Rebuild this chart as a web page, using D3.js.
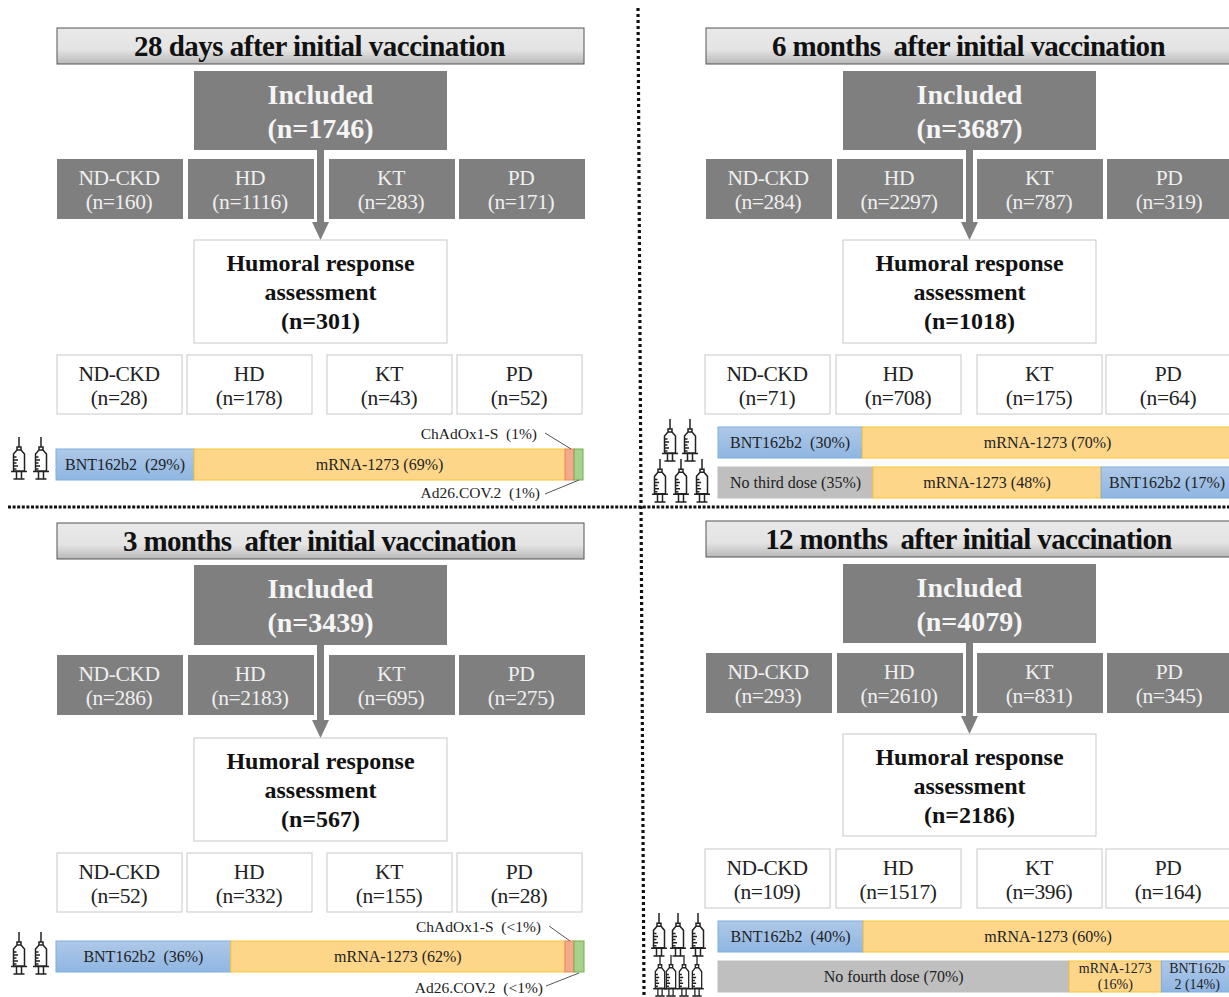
<!DOCTYPE html>
<html>
<head>
<meta charset="utf-8">
<script src="https://cdn.jsdelivr.net/npm/d3@7"></script>
<style>
  html, body { margin: 0; padding: 0; background: #fff; overflow: hidden; }
  text { font-family: "Liberation Serif", serif; white-space: pre; }
</style>
</head>
<body>
<div id="vis"></div>
<script>
// DATA
const titles = ["28 days after initial vaccination", "6 months  after initial vaccination", "3 months  after initial vaccination", "12 months  after initial vaccination"];
const groups = ["ND-CKD", "HD", "KT", "PD"];
const includedN = [1746, 3687, 3439, 4079];
const assessedN = [301, 1018, 567, 2186];
const includedByGroup = [
  [160, 1116, 283, 171],
  [284, 2297, 787, 319],
  [286, 2183, 695, 275],
  [293, 2610, 831, 345],
];
const assessedByGroup = [
  [28, 178, 43, 52],
  [71, 708, 175, 64],
  [52, 332, 155, 28],
  [109, 1517, 396, 164],
];

// vaccine segments: name, percent printed on the bar, share of the bar as drawn
const names28d = ["BNT162b2", "mRNA-1273", "ChAdOx1-S", "Ad26.COV.2"];
const labels28d = ["BNT162b2  (29%)", "mRNA-1273 (69%)", "", ""];
const shares28d = [26.2, 70.4, 1.7, 1.7];

const names3m = ["BNT162b2", "mRNA-1273", "ChAdOx1-S", "Ad26.COV.2"];
const labels3m = ["BNT162b2  (36%)", "mRNA-1273 (62%)", "", ""];
const shares3m = [33.1, 63.3, 1.7, 1.9];

const names6m = ["BNT162b2", "mRNA-1273"];
const labels6m = ["BNT162b2  (30%)", "mRNA-1273 (70%)"];
const shares6m = [28, 72];

const names6mThird = ["None", "mRNA-1273", "BNT162b2"];
const labels6mThird = ["No third dose (35%)", "mRNA-1273 (48%)", "BNT162b2 (17%)"];
const shares6mThird = [30.1, 44.3, 25.6];

const names12m = ["BNT162b2", "mRNA-1273"];
const labels12m = ["BNT162b2  (40%)", "mRNA-1273 (60%)"];
const shares12m = [28.2, 71.8];

const names12mFourth = ["None", "mRNA-1273", "BNT162b2"];
const labels12mFourth = ["No fourth dose (70%)", "mRNA-1273\n(16%)", "BNT162b\n2 (14%)"];
const shares12mFourth = [68.2, 17.9, 13.9];

const vaccineNames = ["BNT162b2", "mRNA-1273", "ChAdOx1-S", "Ad26.COV.2", "None"];
const vaccineFill = d3.scaleOrdinal(vaccineNames, ["url(#blueGrad)", "#fdd68a", "#f4a98c", "#a9d18e", "#bfbfbf"]);
const vaccineStroke = d3.scaleOrdinal(vaccineNames, ["#7fb0e2", "#fbc435", "#ee8a55", "#74b04c", "#bfbfbf"]);

// LAYOUT
var width = 1229;
var height = 997;
const DARK = "#7f7f7f";

const layouts = [
  { left: 57, right: 584, titleY: 28, inclY: 71, inclH: 79, darkY: 159, humY: 240, humH: 103, whiteY: 355, incX: 194,
    darkX: [57, 188, 329, 459], whiteX: [57, 187, 327, 457], darkW: 126, whiteW: 125 },
  { left: 706, right: 1233, titleY: 28, inclY: 71, inclH: 79, darkY: 159, humY: 240, humH: 103, whiteY: 355, incX: 843,
    darkX: [706, 837, 977, 1107], whiteX: [705, 836, 977, 1106], darkW: 126, whiteW: 125 },
  { left: 57, right: 584, titleY: 523, inclY: 565, inclH: 80, darkY: 655, humY: 738, humH: 103, whiteY: 853, incX: 194,
    darkX: [57, 188, 329, 459], whiteX: [57, 187, 327, 457], darkW: 126, whiteW: 125 },
  { left: 706, right: 1233, titleY: 521, inclY: 564, inclH: 79, darkY: 653, humY: 734, humH: 102, whiteY: 849, incX: 843,
    darkX: [706, 837, 977, 1107], whiteX: [705, 836, 977, 1106], darkW: 126, whiteW: 125 },
];

const bars = [
  { panel: 0, names: names28d, labels: labels28d, shares: shares28d, x0: 56, x1: 583, y: 449 },
  { panel: 1, names: names6m, labels: labels6m, shares: shares6m, x0: 718, x1: 1233, y: 427 },
  { panel: 1, names: names6mThird, labels: labels6mThird, shares: shares6mThird, x0: 718, x1: 1233, y: 467 },
  { panel: 2, names: names3m, labels: labels3m, shares: shares3m, x0: 56, x1: 584, y: 941 },
  { panel: 3, names: names12m, labels: labels12m, shares: shares12m, x0: 718, x1: 1233, y: 921 },
  { panel: 3, names: names12mFourth, labels: labels12mFourth, shares: shares12mFourth, x0: 718, x1: 1233, y: 961 },
];

const syringes = [
  { xs: [19, 41], y: 437, h: 43, w: 1 },
  { xs: [670, 690], y: 419, h: 43, w: 1 },
  { xs: [660, 681, 702], y: 459, h: 44, w: 1 },
  { xs: [19, 41], y: 932, h: 43, w: 1 },
  { xs: [659, 678, 698], y: 913, h: 44, w: 1 },
  { xs: [660, 671, 684, 697], y: 955, h: 42, w: 0.85 },
];

const callouts = [
  { text: "ChAdOx1-S  (1%)", tx: 537, ty: 434, line: [545, 433, 571, 449] },
  { text: "Ad26.COV.2  (1%)", tx: 540, ty: 493, line: [545, 494, 579, 480] },
  { text: "ChAdOx1-S  (<1%)", tx: 541, ty: 927, line: [549, 926, 570, 941] },
  { text: "Ad26.COV.2  (<1%)", tx: 543, ty: 988, line: [546, 986, 579, 973] },
];

var svg = d3.select("#vis").append("svg")
  .attr("width", width)
  .attr("height", height)
  .style("display", "block");

var defs = svg.append("defs");
var titleGrad = defs.append("linearGradient").attr("id", "titleGrad").attr("x1", 0).attr("x2", 0).attr("y1", 0).attr("y2", 1);
titleGrad.append("stop").attr("offset", "0%").attr("stop-color", "#e9e9e9");
titleGrad.append("stop").attr("offset", "60%").attr("stop-color", "#e4e4e4");
titleGrad.append("stop").attr("offset", "100%").attr("stop-color", "#b8b8b8");
var blueGrad = defs.append("linearGradient").attr("id", "blueGrad").attr("x1", 0).attr("x2", 0).attr("y1", 0).attr("y2", 1);
blueGrad.append("stop").attr("offset", "0%").attr("stop-color", "#aec8e8");
blueGrad.append("stop").attr("offset", "100%").attr("stop-color", "#8fb6e2");

// centred block of text lines
function block(g, lines, cx, cy, size, lineH, color, bold, spacing) {
  var t = g.append("text")
    .attr("text-anchor", "middle")
    .attr("font-size", size)
    .attr("font-weight", bold ? "bold" : "normal")
    .attr("letter-spacing", spacing || 0)
    .attr("fill", color);
  lines.forEach(function (s, i) {
    t.append("tspan")
      .attr("x", cx)
      .attr("y", cy + (i - (lines.length - 1) / 2) * lineH + size * 0.33)
      .text(s);
  });
}

layouts.forEach(function (p, i) {
  var g = svg.append("g");

  // title strip
  g.append("rect")
    .attr("x", p.left).attr("y", p.titleY)
    .attr("width", p.right - p.left).attr("height", 36)
    .attr("fill", "url(#titleGrad)").attr("stroke", "#555").attr("stroke-width", 1);
  g.append("text")
    .attr("x", (p.left + p.right) / 2 - 1).attr("y", p.titleY + 28)
    .attr("text-anchor", "middle").attr("font-size", 29).attr("font-weight", "bold")
    .attr("letter-spacing", titles[i].indexOf("  ") > 0 ? -0.66 : -0.5)
    .attr("fill", "#111").text(titles[i]);

  // included box
  g.append("rect")
    .attr("x", p.incX).attr("y", p.inclY).attr("width", 253).attr("height", p.inclH)
    .attr("fill", DARK);
  block(g, ["Included", "(n=" + includedN[i] + ")"], p.incX + 126.5, p.inclY + p.inclH / 2 + 1, 28, 34, "#f5f5f5", true);

  // group boxes under included
  groups.forEach(function (name, j) {
    g.append("rect")
      .attr("x", p.darkX[j]).attr("y", p.darkY).attr("width", p.darkW).attr("height", 60)
      .attr("fill", DARK);
    block(g, [name, "(n=" + includedByGroup[i][j] + ")"], p.darkX[j] + p.darkW / 2 - 1, p.darkY + 31, 21.5, 24, "#efefef", false, -0.4);
  });

  // arrow
  var ax = p.incX + 126.5;
  var arrowTop = p.inclY + p.inclH;
  var arrowEnd = p.humY;
  g.append("rect")
    .attr("x", ax - 3.5).attr("y", arrowTop).attr("width", 7).attr("height", arrowEnd - arrowTop - 16)
    .attr("fill", DARK);
  g.append("path")
    .attr("d", d3.line()([[ax - 8.5, arrowEnd - 18], [ax + 8.5, arrowEnd - 18], [ax, arrowEnd]]) + "Z")
    .attr("fill", DARK);

  // humoral response box
  g.append("rect")
    .attr("x", p.incX).attr("y", p.humY).attr("width", 253).attr("height", p.humH)
    .attr("fill", "#fff").attr("stroke", "#c8c8c8");
  block(g, ["Humoral response", "assessment", "(n=" + assessedN[i] + ")"], p.incX + 126.5, p.humY + p.humH / 2 + 1, 24, 29, "#111", true);

  // group boxes under humoral
  groups.forEach(function (name, j) {
    g.append("rect")
      .attr("x", p.whiteX[j]).attr("y", p.whiteY).attr("width", p.whiteW).attr("height", 59)
      .attr("fill", "#fff").attr("stroke", "#c8c8c8");
    block(g, [name, "(n=" + assessedByGroup[i][j] + ")"], p.whiteX[j] + p.whiteW / 2 - 0.5, p.whiteY + 31, 21.5, 24, "#222", false, -0.4);
  });
});

// stacked vaccine bars
bars.forEach(function (b) {
  var xScale = d3.scaleLinear().domain([0, d3.sum(b.shares)]).range([b.x0, b.x1]);
  var yScale = d3.scaleLinear().domain([0, 1]).range([b.y, b.y + 31]);
  var cum = d3.cumsum(b.shares);
  var segs = b.names.map(function (n, i) {
    return { name: n, label: b.labels[i], start: cum[i] - b.shares[i], end: cum[i] };
  });
  var g = svg.append("g");
  g.selectAll("rect").data(segs).enter().append("rect")
    .attr("x", function (d) { return xScale(d.start); })
    .attr("y", yScale(0))
    .attr("width", function (d) { return xScale(d.end) - xScale(d.start); })
    .attr("height", yScale(1) - yScale(0))
    .attr("fill", function (d) { return vaccineFill(d.name); })
    .attr("stroke", function (d) { return vaccineStroke(d.name); })
    .attr("stroke-width", 1);
  segs.forEach(function (d) {
    if (!d.label) return;
    var lines = d.label.split("\n");
    var two = lines.length > 1;
    block(g, lines, (xScale(d.start) + xScale(d.end)) / 2, yScale(0.5), two ? 14 : 16, 16, "#222", false);
  });
});

// callout labels for the two thin segments
callouts.forEach(function (c) {
  svg.append("text")
    .attr("x", c.tx).attr("y", c.ty + 5)
    .attr("text-anchor", "end").attr("font-size", 15.5).attr("fill", "#222")
    .text(c.text);
  svg.append("line")
    .attr("x1", c.line[0]).attr("y1", c.line[1]).attr("x2", c.line[2]).attr("y2", c.line[3])
    .attr("stroke", "#555").attr("stroke-width", 1);
});

// syringe icon, drawn in a 14x43 box with its needle at x = 0
function syringe(g, cx, top, h, w) {
  var k = g.append("g")
    .attr("transform", "translate(" + cx + "," + top + ") scale(" + w + "," + h / 43 + ")")
    .attr("fill", "none").attr("stroke", "#222").attr("stroke-width", 1.5);
  var p = d3.path();
  p.moveTo(0, 0); p.lineTo(0, 10);            // needle
  p.moveTo(-2, 10); p.lineTo(2, 10); p.lineTo(2, 13); p.lineTo(-2, 13); p.closePath();
  p.moveTo(-2, 13); p.lineTo(-5.5, 17); p.lineTo(-5.5, 34); p.lineTo(5.5, 34); p.lineTo(5.5, 17); p.lineTo(2, 13); // barrel
  [20, 23, 26, 29, 32].forEach(function (y, i) {
    p.moveTo(-5.5, y); p.lineTo(i % 2 ? -1 : -2.5, y);
  });
  p.moveTo(-8, 34.5); p.lineTo(8, 34.5);      // flange
  p.moveTo(-2.5, 34.5); p.lineTo(-2.5, 42); p.moveTo(2.5, 34.5); p.lineTo(2.5, 42);
  p.moveTo(-5.5, 42); p.lineTo(5.5, 42);
  k.append("path").attr("d", p.toString());
}
syringes.forEach(function (s) {
  s.xs.forEach(function (x) { syringe(svg, x, s.y, s.h, s.w); });
});

// dotted dividers
svg.append("line")
  .attr("x1", 8).attr("y1", 507).attr("x2", 1229).attr("y2", 507)
  .attr("stroke", "#111").attr("stroke-width", 3.2).attr("stroke-dasharray", "3 1.6");
svg.append("line")
  .attr("x1", 638).attr("y1", 8).attr("x2", 644).attr("y2", 997)
  .attr("stroke", "#111").attr("stroke-width", 3.2).attr("stroke-dasharray", "3 3");
</script>
</body>
</html>
